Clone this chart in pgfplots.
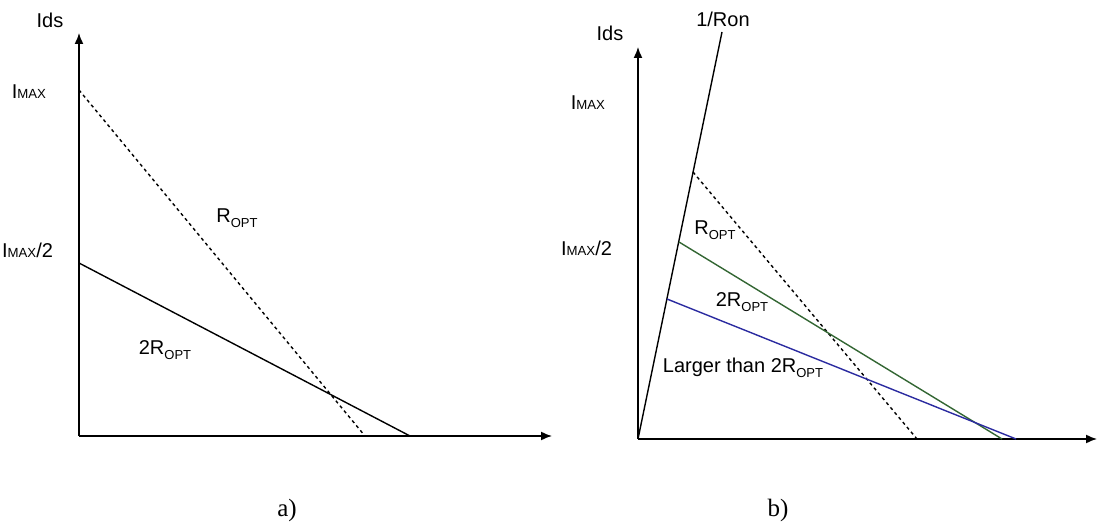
\documentclass[border=0pt]{standalone}
\usepackage{fontspec}
\setmainfont{Liberation Sans}
\newfontfamily\tnr{Liberation Serif}
\usepackage{pgfplots}
\pgfplotsset{compat=1.18}
\usetikzlibrary{arrows.meta}
\definecolor{cgreen}{HTML}{336633}
\definecolor{cblue}{HTML}{2B2BA0}
\definecolor{ctext}{HTML}{333333}
% I with small MAX, R with OPT subscript
\newcommand{\imax}{I{\fontsize{6.6}{8}\selectfont MAX}}
\newcommand{\ropt}{R\raisebox{-0.45ex}{\fontsize{6.5}{8}\selectfont OPT}}
\pgfplotsset{sketch/.style={
  scale only axis,
  axis lines=left,
  xtick=\empty, ytick=\empty,
  xmin=0, ymin=0,
  clip=false,
  axis line style={line width=0.75pt, -{Latex[length=5.5pt,width=4.5pt]}},
  every axis plot/.append style={line width=0.7pt},
  every node/.append style={font=\fontsize{7.9}{10}\selectfont, text=ctext},
}}

\begin{document}
\begin{tikzpicture}
\path[use as bounding box] (0,0) rectangle (549.5pt,262.5pt);

% panel a
\begin{axis}[
  sketch,
  at={(39.5pt,44.5pt)}, anchor=south west,
  width=236.5pt, height=201.5pt,
  xmax=473, ymax=403,
]
\addplot[black, dash pattern=on 1.6pt off 1.6pt] coordinates {(0,346) (286,0)};
\addplot[black] coordinates {(0,173) (331,0)};
\node at (axis cs:-29,416) {Ids};
\node[anchor=east] at (axis cs:-26,344) {\imax};
\node[anchor=east] at (axis cs:-19,186) {\imax/2};
\node at (axis cs:158,218) {\ropt};
\node at (axis cs:86,86) {2\ropt};
\node[text=black] at (axis cs:208,-74) {\tnr\fontsize{12.5}{14}\selectfont a)};
\end{axis}

% panel b
\begin{axis}[
  sketch,
  at={(319pt,43pt)}, anchor=south west,
  width=229.5pt, height=196pt,
  xmax=459, ymax=392,
]
\addplot[black] coordinates {(0,0) (84,407)};
\addplot[black, dash pattern=on 1.6pt off 1.6pt] coordinates {(55,267) (279,0)};
\addplot[cgreen] coordinates {(41,197) (364,0)};
\addplot[cblue] coordinates {(29,140) (378,0)};
\node at (axis cs:-28,406) {Ids};
\node[anchor=east] at (axis cs:-26,336) {\imax};
\node[anchor=east] at (axis cs:-19,191) {\imax/2};
\node at (axis cs:85,420) {1/Ron};
\node at (axis cs:77,209) {\ropt};
\node at (axis cs:104,137) {2\ropt};
\node at (axis cs:105,71) {Larger than 2\ropt};
\node[text=black] at (axis cs:140,-71) {\tnr\fontsize{12.5}{14}\selectfont b)};
\end{axis}
\end{tikzpicture}
\end{document}
